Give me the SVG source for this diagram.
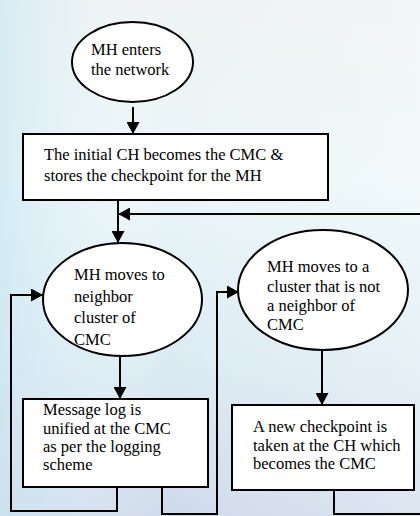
<svg xmlns="http://www.w3.org/2000/svg" width="420" height="516" viewBox="0 0 420 516">
<defs>
<linearGradient id="bg" x1="0" y1="0" x2="0" y2="1">
<stop offset="0" stop-color="#eef2f3"/>
<stop offset="0.35" stop-color="#eaf6f8"/>
<stop offset="0.7" stop-color="#dcebf3"/>
<stop offset="1" stop-color="#cfdaeb"/>
</linearGradient>
<linearGradient id="bgh" x1="0" y1="0" x2="1" y2="0">
<stop offset="0" stop-color="#c8e6f2" stop-opacity="0.6"/>
<stop offset="0.4" stop-color="#ffffff" stop-opacity="0"/>
<stop offset="1" stop-color="#ffffff" stop-opacity="0.3"/>
</linearGradient>
<marker id="ah" viewBox="0 0 12 13" refX="12" refY="6.5" markerWidth="12" markerHeight="13" markerUnits="userSpaceOnUse" orient="auto">
<path d="M0 0 L12 6.5 L0 13 Z" fill="#000"/>
</marker>
<style>
.n{fill:#fff;stroke:#000;stroke-width:2}
.t{font-family:'Liberation Serif','DejaVu Serif',serif;font-size:16.5px;fill:#000}
.c path{fill:none;stroke:#000;stroke-width:2}
</style>
</defs>
<rect width="420" height="516" fill="url(#bg)"/>
<rect width="420" height="516" fill="url(#bgh)"/>
<g class="c" id="connectors">
<path d="M133 107 V134" marker-end="url(#ah)"/>
<path d="M118 200 V243" marker-end="url(#ah)"/>
<path d="M420 214 H118" marker-end="url(#ah)"/>
<path d="M120 356 V399" marker-end="url(#ah)"/>
<path d="M322 350 V405" marker-end="url(#ah)"/>
<path d="M117 487 V511 H11 V295 H43" marker-end="url(#ah)"/>
<path d="M162 487 V514 H217 V292 H239" marker-end="url(#ah)"/>
<path d="M334 490 V514 H420"/>
</g>
<g id="enter">
<ellipse class="n" cx="132.5" cy="62" rx="60.5" ry="40"/>
<text class="t" x="91" y="55">MH enters</text>
<text class="t" x="91" y="75">the network</text>
</g>
<g id="initial">
<rect class="n" x="23" y="134" width="305" height="66"/>
<text class="t" x="44" y="160">The initial CH becomes the CMC &amp;</text>
<text class="t" x="44" y="181">stores the checkpoint for the MH</text>
</g>
<g id="neighbor">
<ellipse class="n" cx="122.5" cy="299.5" rx="79.5" ry="56.5"/>
<text class="t" x="74" y="280">MH moves to</text>
<text class="t" x="74" y="302">neighbor</text>
<text class="t" x="74" y="323">cluster of</text>
<text class="t" x="74" y="345">CMC</text>
</g>
<g id="nonneighbor">
<ellipse class="n" cx="323" cy="290" rx="85" ry="60"/>
<text class="t" x="267" y="272">MH moves to a</text>
<text class="t" x="267" y="292">cluster that is not</text>
<text class="t" x="267" y="311">a neighbor of</text>
<text class="t" x="267" y="330">CMC</text>
</g>
<g id="log">
<rect class="n" x="23" y="399" width="185" height="88"/>
<text class="t" x="43" y="415">Message log is</text>
<text class="t" x="43" y="434">unified at the CMC</text>
<text class="t" x="43" y="452">as per the logging</text>
<text class="t" x="43" y="470">scheme</text>
</g>
<g id="newcp">
<rect class="n" x="232" y="405" width="182" height="85"/>
<text class="t" x="253" y="432">A new checkpoint is</text>
<text class="t" x="253" y="451">taken at the CH which</text>
<text class="t" x="253" y="469">becomes the CMC</text>
</g>
</svg>
